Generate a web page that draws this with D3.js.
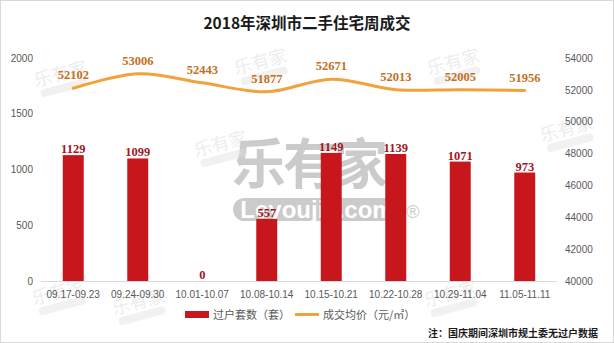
<!DOCTYPE html>
<html><head><meta charset="utf-8">
<script src="https://cdn.jsdelivr.net/npm/d3@7"></script>
<style>body{margin:0;background:#fff}svg{display:block}</style>
</head><body><svg id="c" width="614" height="343"></svg>
<script>
const categories = ["09.17-09.23","09.24-09.30","10.01-10.07","10.08-10.14","10.15-10.21","10.22-10.28","10.29-11.04","11.05-11.11"];
const transfers = [1129,1099,0,557,1149,1139,1071,973];
const avgPrice = [52102,53006,52443,51877,52671,52013,52005,51956];
const leftTicks = [0,500,1000,1500,2000];
const rightTicks = [40000,42000,44000,46000,48000,50000,52000,54000];
const title = "2018年深圳市二手住宅周成交";
const legendBar = "过户套数（套）";
const legendLine = "成交均价（元/㎡）";
const note = "注：国庆期间深圳市规土委无过户数据";

const svg = d3.select("#c");
const W=614,H=343;
const L=41,R=557,T=58,B=281;
const cjk = "'Noto Sans CJK SC','Microsoft YaHei',sans-serif";
const num = "'Liberation Sans',Arial,sans-serif";
const bnum = "'Liberation Serif','DejaVu Serif',serif";

svg.append("rect").attr("x",0.5).attr("y",0.5).attr("width",W-1).attr("height",H-1)
  .attr("fill","#fff").attr("stroke","#d9d9d9");

// watermarks (big)
const wm = svg.append("g").attr("class","wm");
wm.append("text").attr("x",232).attr("y",184).attr("font-family",cjk).attr("font-weight",700)
  .attr("font-size",54).attr("fill","#cbcbcb").attr("textLength",156).text("乐有家");
wm.append("rect").attr("x",233).attr("y",198).attr("width",168).attr("height",23).attr("rx",11.5).attr("fill","#cbcbcb");
wm.append("text").attr("x",317).attr("y",218).attr("text-anchor","middle").attr("font-family",num)
  .attr("font-weight",700).attr("font-size",24).attr("fill","#fff").text("Leyoujia.com");
wm.append("text").attr("x",413).attr("y",218).attr("text-anchor","middle").attr("font-family",num)
  .attr("font-size",18).attr("fill","#cbcbcb").text("®");
// small watermarks
const smalls = [[62,80],[222,150],[262,68],[455,68],[568,135],[60,298],[140,308],[452,300]];
smalls.forEach(([x,y])=>{
  const g = svg.append("g").attr("transform",`translate(${x},${y}) rotate(-15)`).attr("opacity",0.4);
  g.append("text").attr("text-anchor","middle").attr("font-family",cjk).attr("font-size",18)
    .attr("fill","#d4d4d4").text("乐有家");
  g.append("rect").attr("x",-24).attr("y",4).attr("width",48).attr("height",8).attr("rx",4).attr("fill","#dedede");
});

const x = d3.scaleBand().domain(categories).range([L,R]).paddingInner(0.675).paddingOuter(0.3375);
const yL = d3.scaleLinear().domain([0,2000]).range([B,T]);
const yR = d3.scaleLinear().domain([40000,54000]).range([B,T]);

// title
svg.append("text").attr("x",307).attr("y",29).attr("text-anchor","middle").attr("font-family",cjk)
  .attr("font-weight",700).attr("font-size",15.5).attr("fill","#1a1a1a").text(title);

// left axis
const ax = d3.axisLeft(yL).tickValues(leftTicks).tickSize(0).tickPadding(0).tickFormat(d3.format("d"));
const gL = svg.append("g").attr("transform",`translate(33,0)`).call(ax);
gL.select(".domain").remove();
gL.selectAll("text").attr("font-family",num).attr("font-size",10).attr("fill","#595959");
// right axis
const axR = d3.axisRight(yR).tickValues(rightTicks).tickSize(0).tickPadding(0).tickFormat(d3.format("d"));
const gR = svg.append("g").attr("transform",`translate(565,0)`).call(axR);
gR.select(".domain").remove();
gR.selectAll("text").attr("font-family",num).attr("font-size",10).attr("fill","#595959");

// bars
svg.append("g").selectAll("rect").data(transfers).join("rect")
  .attr("x",(d,i)=>x(categories[i])).attr("width",x.bandwidth())
  .attr("y",d=>yL(d)).attr("height",d=>B-yL(d)).attr("fill","#c8161d");

// baseline
svg.append("line").attr("x1",L).attr("x2",R).attr("y1",B+0.5).attr("y2",B+0.5).attr("stroke","#d9d9d9");

// bar labels
svg.append("g").selectAll("text").data(transfers).join("text")
  .attr("x",(d,i)=>x(categories[i])+x.bandwidth()/2).attr("y",d=>yL(d)-2)
  .attr("text-anchor","middle").attr("font-family",bnum).attr("font-weight",700).attr("font-size",12.5)
  .attr("fill","#a3161c").text(d=>d);

// line
const cx = i=>x(categories[i])+x.bandwidth()/2;
const line = d3.line().x((d,i)=>cx(i)).y(d=>yR(d)).curve(d3.curveCatmullRom.alpha(0.5));
svg.append("path").datum(avgPrice).attr("d",line).attr("fill","none").attr("stroke","#f2a23a").attr("stroke-width",3)
  .attr("stroke-linecap","round");
svg.append("g").selectAll("text").data(avgPrice).join("text")
  .attr("x",(d,i)=>cx(i)).attr("y",d=>yR(d)-9)
  .attr("text-anchor","middle").attr("font-family",bnum).attr("font-weight",700).attr("font-size",12.5)
  .attr("fill","#c3701c").text(d=>d);

// x labels
svg.append("g").selectAll("text").data(categories).join("text")
  .attr("x",(d,i)=>cx(i)).attr("y",298).attr("text-anchor","middle")
  .attr("font-family",num).attr("font-size",10).attr("fill","#595959").text(d=>d);

// legend
svg.append("rect").attr("x",185).attr("y",311).attr("width",24).attr("height",7).attr("fill","#c8161d");
svg.append("text").attr("x",213).attr("y",318.5).attr("font-family",cjk).attr("font-size",11).attr("fill","#595959").text(legendBar);
svg.append("line").attr("x1",295).attr("x2",319).attr("y1",314.5).attr("y2",314.5).attr("stroke","#f2a23a").attr("stroke-width",3);
svg.append("text").attr("x",323).attr("y",318.5).attr("font-family",cjk).attr("font-size",11).attr("fill","#595959").text(legendLine);

// note
svg.append("text").attr("x",598).attr("y",337).attr("text-anchor","end").attr("font-family",cjk)
  .attr("font-weight",700).attr("font-size",10).attr("fill","#1a1a1a").text(note);
</script></body></html>
